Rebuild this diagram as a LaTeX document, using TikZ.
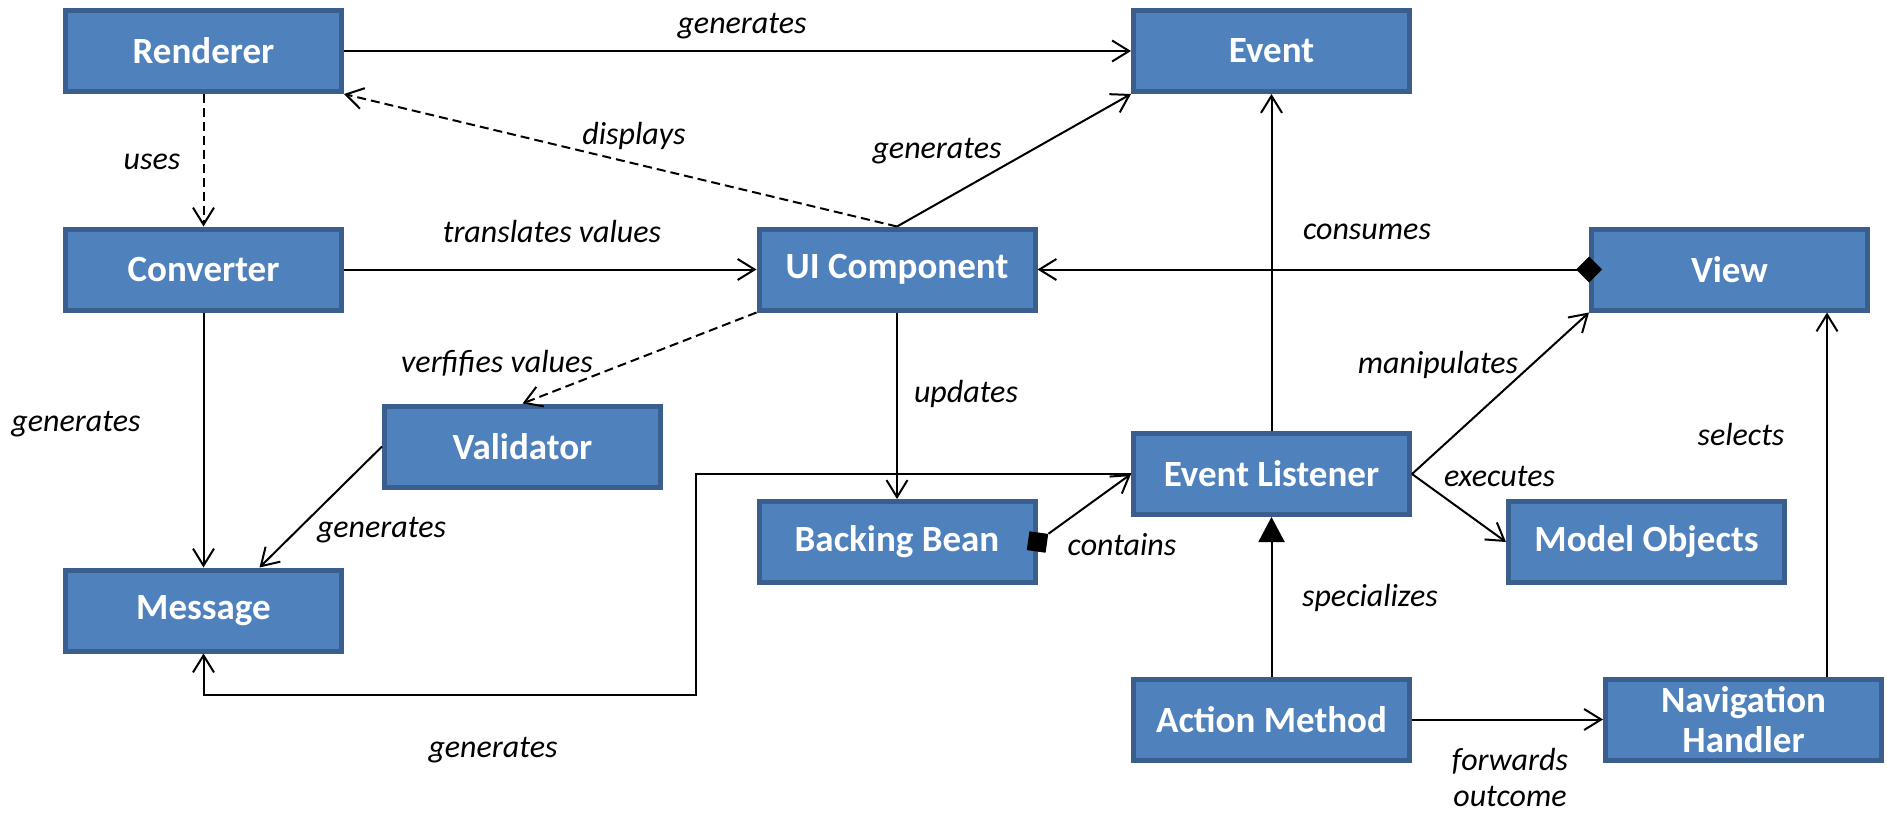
\documentclass[tikz,border=0pt]{standalone}
\usepackage{fontspec}
\setmainfont{Carlito}
\usetikzlibrary{arrows.meta}
\definecolor{boxfill}{HTML}{4F81BD}
\definecolor{boxline}{HTML}{3A5F8E}
\begin{document}
\begin{tikzpicture}[x=1pt,y=-1pt,
  box/.style={draw=boxline, fill=boxfill, line width=5pt, minimum width=276pt, minimum height=81pt, inner sep=0pt, text=white, font=\fontsize{37}{40}\selectfont\bfseries, align=center},
  lbl/.style={font=\fontsize{32}{37}\selectfont\itshape, inner sep=0pt, align=center},
  conn/.style={line width=2pt},
  arr/.style={conn, -{Straight Barb[length=17pt,width=21pt,line width=2pt]}},
  dashline/.style={dash pattern=on 9pt off 5pt}
]
\useasboundingbox (0,0) rectangle (1893,814);
\fill[white] (0,0) rectangle (1893,814);

% boxes
\node[box] (Ren) at (203.5,51) {Renderer};
\node[box] (Evt) at (1271.5,51) {Event};
\node[box] (Conv) at (203.5,269.5) {Converter};
\node[box] (UI) at (897,269.5) {UI Component};
\node[box] (View) at (1729.5,269.5) {View};
\node[box] (Val) at (522.5,446.5) {Validator};
\node[box] (EL) at (1271.5,474) {Event Listener};
\node[box] (BB) at (897,542) {Backing Bean};
\node[box] (MO) at (1646.5,542) {Model Objects};
\node[box] (Msg) at (203.5,610.5) {Message};
\node[box] (AM) at (1271.5,719.5) {Action Method};
\node[box] (NH) at (1743.5,719.5) {Navigation\\Handler};

% connectors
\draw[arr] (Ren.east) -- (Evt.west);
\draw[arr, dashline] (Ren.south) -- (Conv.north);
\draw[arr, dashline] (UI.north) -- (Ren.south east);
\draw[arr] (UI.north) -- (Evt.south west);
\draw[arr] (Conv.east) -- (UI.west);
\draw[arr] (EL.north) -- (Evt.south);
\draw[conn, {Diamond[length=26pt,width=26pt]}-{Straight Barb[length=17pt,width=21pt,line width=2pt]}, shorten <=-13pt] (View.west) -- (UI.east);
\draw[arr, dashline] (UI.south west) -- (Val.north);
\draw[arr] (UI.south) -- (BB.north);
\draw[arr] (Conv.south) -- (Msg.north);
\draw[arr] (Val.west) -- ([xshift=56pt]Msg.north);
\node[fill=black, minimum size=19pt, inner sep=0pt, rotate=-8] (sq) at (BB.east) {};
\draw[arr] (sq.north east) -- (EL.west);
\coordinate (r1) at (696,474);
\coordinate (r2) at (696,695);
\draw[arr] (EL.west) -- (r1) -- (r2) -| (Msg.south);
\draw[arr] (EL.east) -- (View.south west);
\draw[arr] (EL.east) -- (MO.west);
\draw[conn, -{Triangle[length=25pt,width=26pt]}] (AM.north) -- (EL.south);
\draw[arr] (AM.east) -- (NH.west);
\draw[arr] ([xshift=83.5pt]NH.north) -- ([xshift=97.5pt]View.south);

% labels
\node[lbl] (l1) at (742,26) {generates};
\node[lbl] (l2) at (152,162) {uses};
\node[lbl] (l3) at (634,136) {displays};
\node[lbl] (l4) at (937,151) {generates};
\node[lbl] (l5) at (552,232) {translates values};
\node[lbl] (l6) at (1367,232) {consumes};
\node[lbl] (l7) at (497,363) {verfifies values};
\node[lbl] (l8) at (966,394) {updates};
\node[lbl] (l9) at (76,424) {generates};
\node[lbl] (l10) at (381.5,530) {generates};
\node[lbl] (l11) at (493,750) {generates};
\node[lbl] (l12) at (1122,544.5) {contains};
\node[lbl] (l13) at (1438,365) {manipulates};
\node[lbl] (l14) at (1499.5,476) {executes};
\node[lbl] (l15) at (1370,598) {specializes};
\node[lbl, font=\fontsize{32}{36}\selectfont\itshape] (l16) at (1510,777) {forwards\\outcome};
\node[lbl] (l17) at (1741,435) {selects};
\end{tikzpicture}
\end{document}
